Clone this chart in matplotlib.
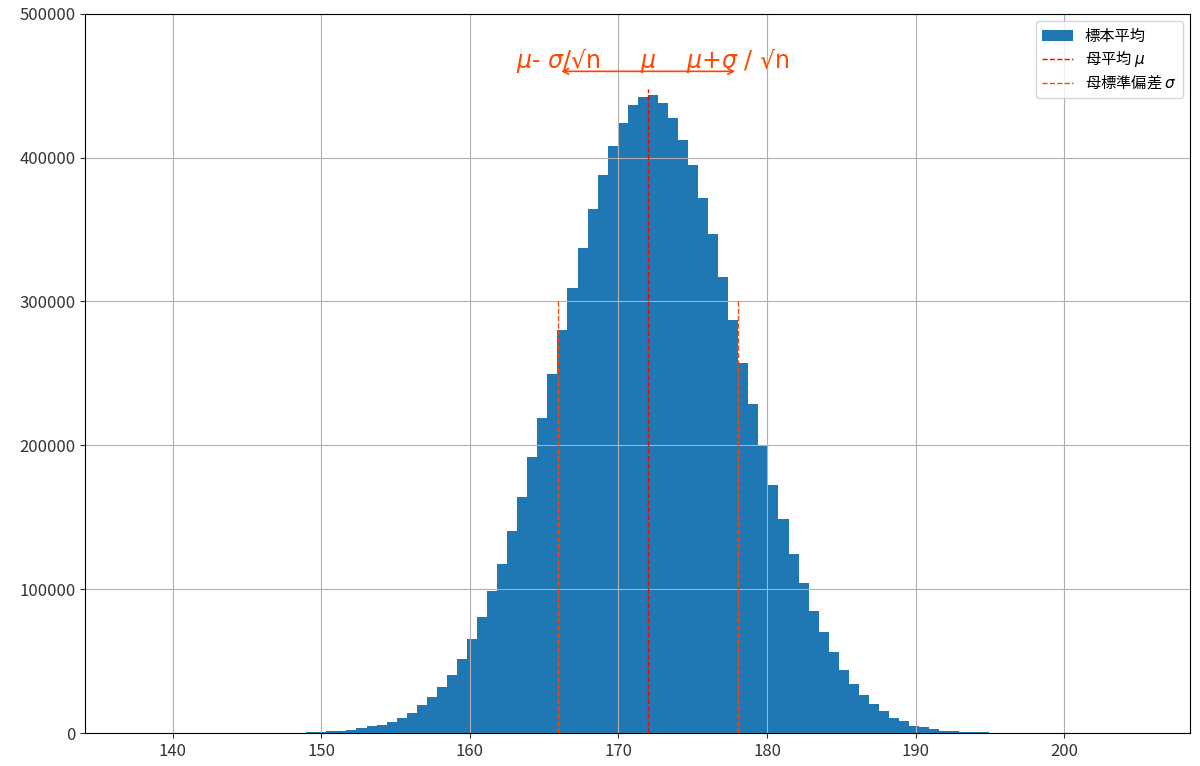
import numpy as np
import matplotlib
matplotlib.use("Agg")
import matplotlib.pyplot as plt

plt.rcParams['font.family'] = ['Noto Sans CJK JP', 'DejaVu Sans']

# histogram of sample means (100 bins)
bin_lo = 137.5
bin_hi = 205.1
counts = [0] * 17 + [
    600, 900, 1100, 1400, 2100, 3300, 4700, 5900, 8000, 10300,
    13700, 19400, 25000, 32000, 40700, 51300, 65400, 80500, 98900, 117600,
    140200, 164400, 192100, 219300, 249700, 279900, 309100, 337200, 364000, 388200,
    407800, 423800, 436400, 442400, 443500, 437900, 427700, 412300, 395100, 371900,
    346800, 317300, 287100, 257300, 228600, 199700, 172500, 148700, 124300, 104100,
    85000, 70000, 56400, 43500, 34100, 26500, 20200, 15600, 10700, 8600,
    5100, 4000, 2600, 1600, 1100, 900, 700, 500,
] + [0] * 15

mu = 172.0
se = 6.04          # sigma / sqrt(n)
mean_top = 448000
sd_top = 300000
arrow_y = 460000

edges = np.linspace(bin_lo, bin_hi, len(counts) + 1)
centers = (edges[:-1] + edges[1:]) / 2

fig, ax = plt.subplots(figsize=(12, 7.66), dpi=100)
fig.subplots_adjust(left=0.071, right=0.992, top=0.982, bottom=0.043)

_, _, patches = ax.hist(centers, bins=edges, weights=counts, color='#1f77b4')
l_mu = ax.vlines(mu, 0, mean_top, colors='red', linestyles='dashed',
                 linewidth=1)
l_sd = ax.vlines([mu - se, mu + se], 0, sd_top, colors='orangered',
                 linestyles='dashed', linewidth=1)

ax.annotate('', xy=(mu - se, arrow_y), xytext=(mu + se, arrow_y),
            arrowprops=dict(arrowstyle='<->', color='orangered', lw=1.2))
txt = dict(color='orangered', fontsize=17, ha='center', va='baseline',
           family='DejaVu Sans')
ax.text(mu - se, arrow_y + 2500, '$\\mu$- $\\sigma$/√n', **txt)
ax.text(mu, arrow_y + 2500, '$\\mu$', **txt)
ax.text(mu + se, arrow_y + 2500, '$\\mu$+$\\sigma$ / √n', **txt)

ax.set_ylim(0, 500000)
ax.tick_params(labelsize=12, colors='#333333')
ax.grid(True)
ax.legend([patches[0], l_mu, l_sd],
          ['標本平均', '母平均 $\\mu$', '母標準偏差 $\\sigma$'],
          loc='upper right', fontsize=11, labelspacing=0.25)

plt.savefig('out.png')
